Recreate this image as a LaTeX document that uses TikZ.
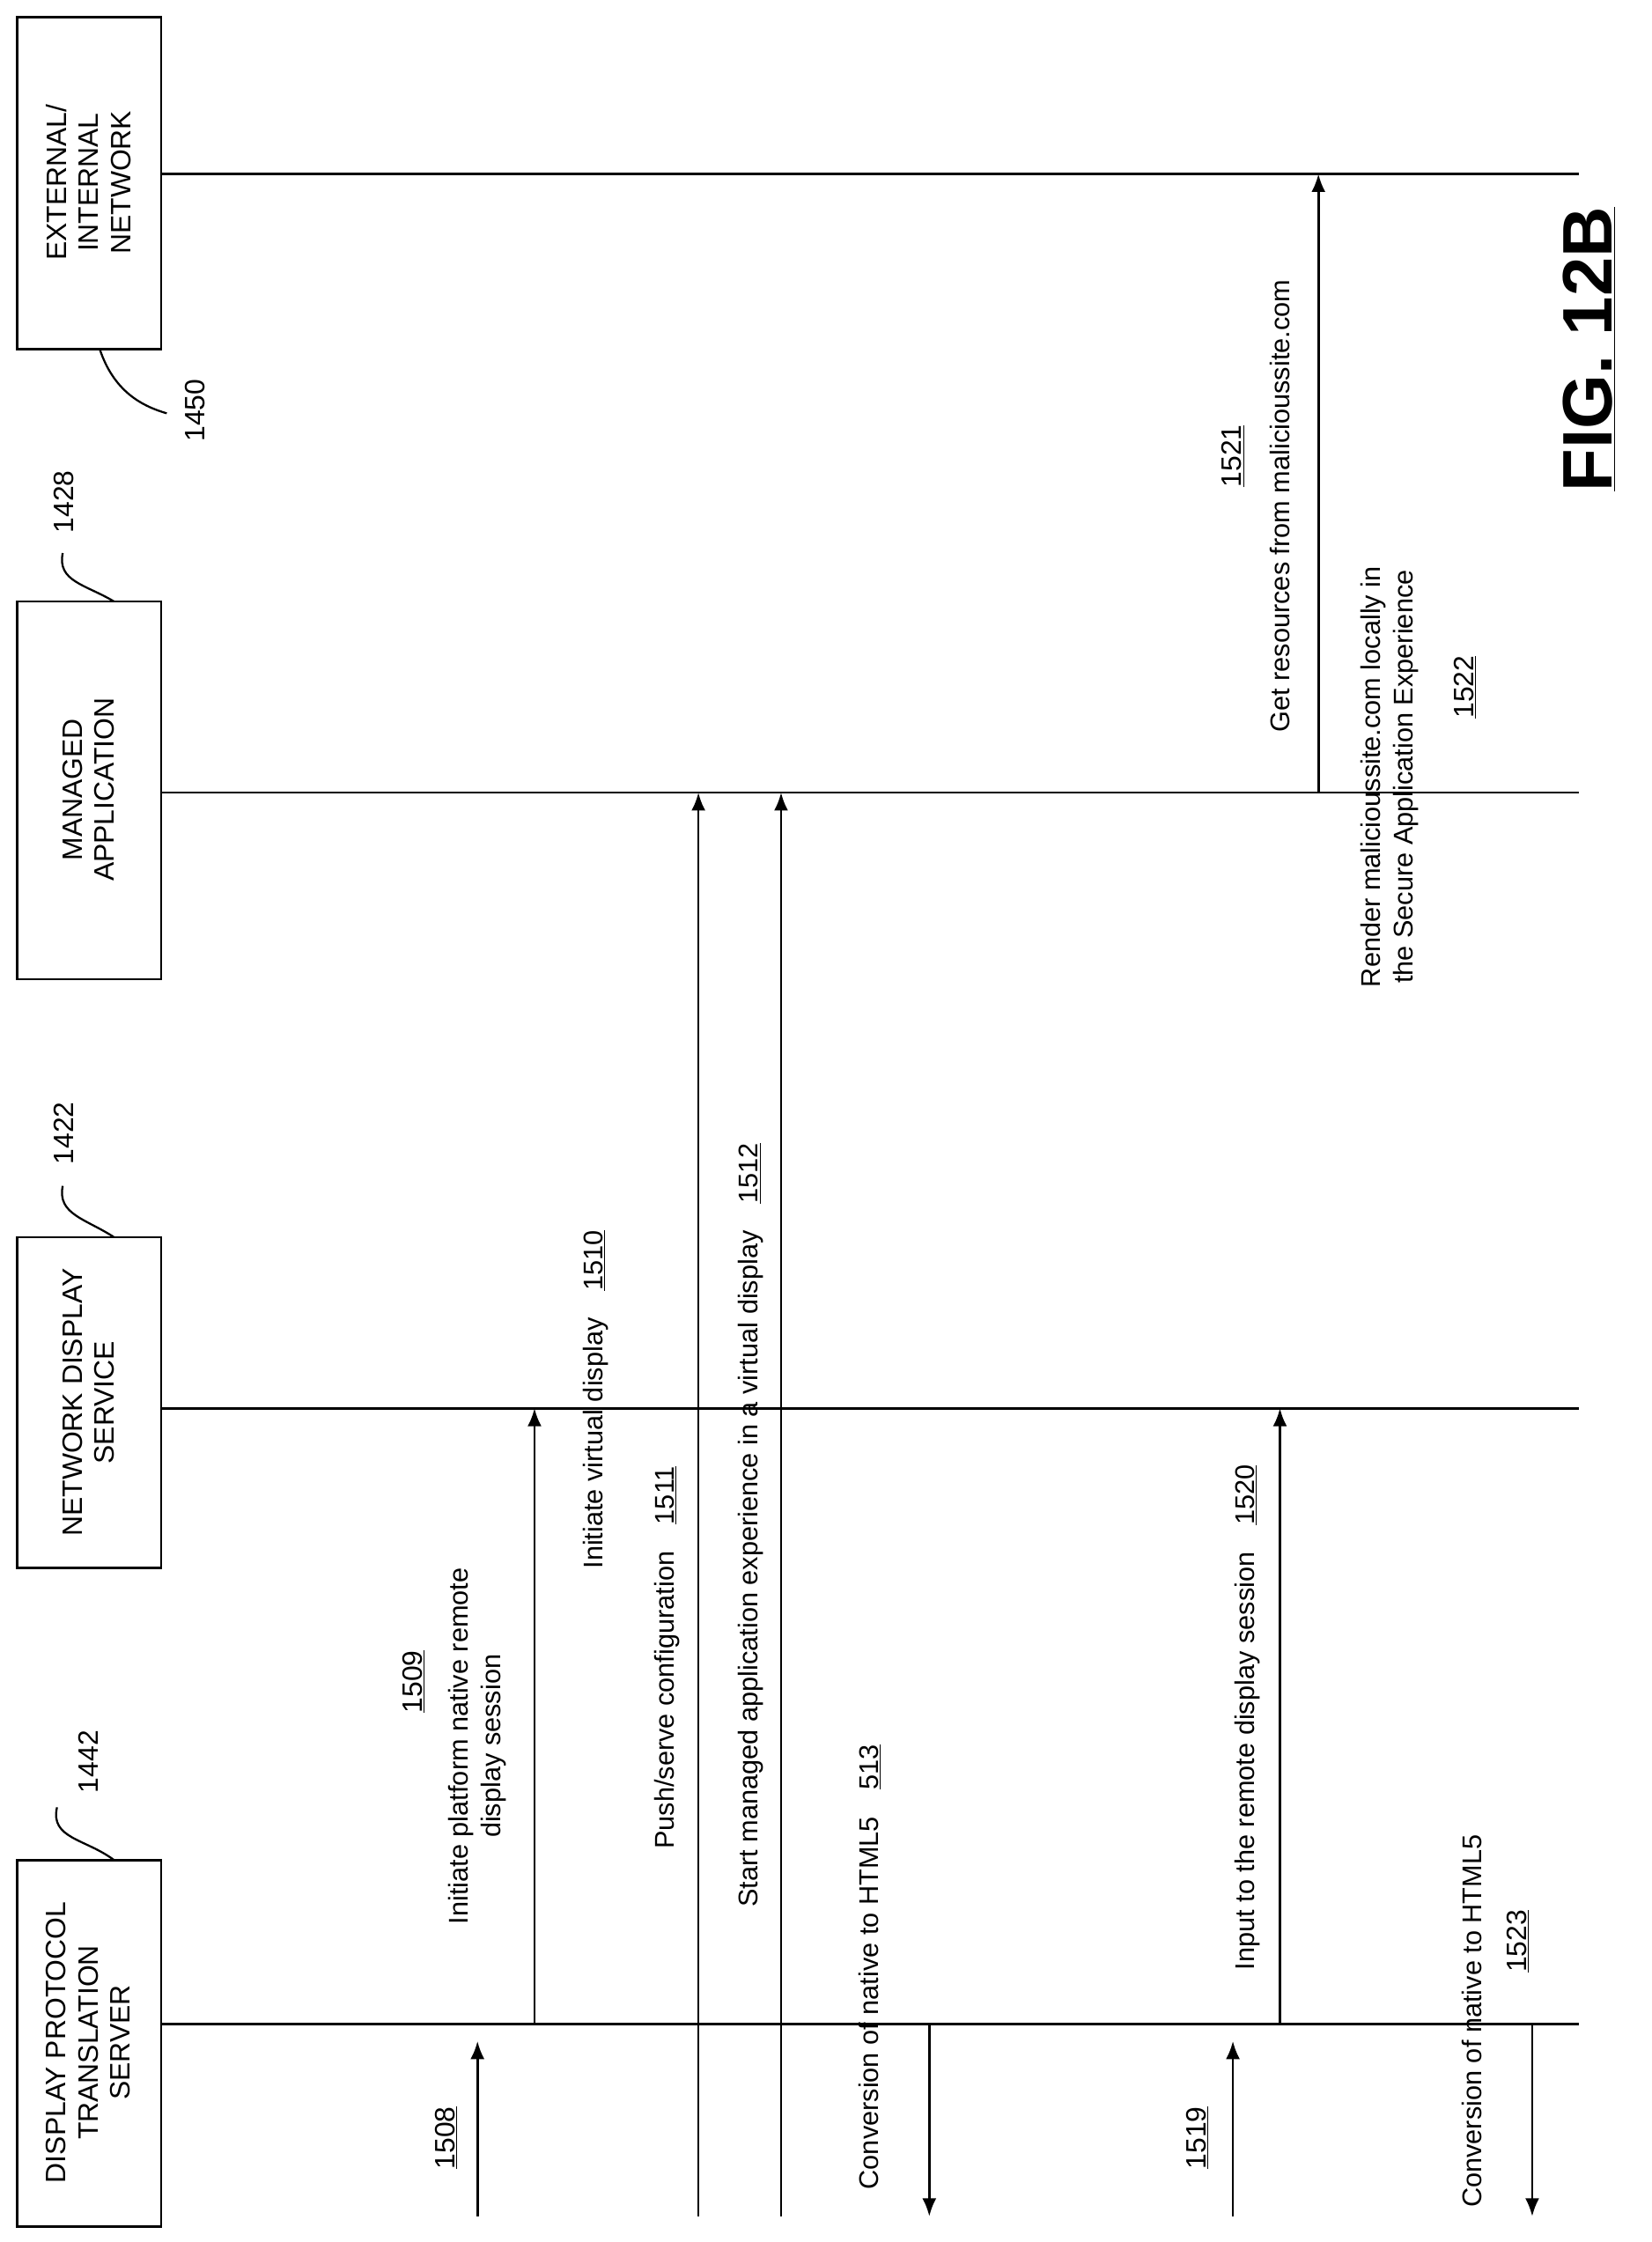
\documentclass[tikz,border=0pt]{standalone}
\usepackage{fontspec}
\setmainfont{Liberation Sans}
\usetikzlibrary{arrows.meta,positioning}

\begin{document}
\begin{tikzpicture}[
    x=0.05cm, y=-0.05cm,
    box/.style={draw, line width=2.4pt, font=\fontsize{28}{32}\selectfont, align=center},
    life/.style={line width=2.4pt},
    msg/.style={line width=2.4pt, -{Latex[length=18pt,width=14pt]}},
    lbl/.style={rotate=90, font=\fontsize{27}{32}\selectfont, align=center, inner sep=1pt},
    ref/.style={font=\fontsize{28}{32}\selectfont, inner sep=1pt},
    lead/.style={line width=2pt}
]
    \useasboundingbox (0,0) rectangle (1159,1573);

    % participant boxes
    \draw[box] (12,1305) rectangle (113,1562);
    \node[box, draw=none, rotate=90] (dpts) at (62,1433) {DISPLAY PROTOCOL\\TRANSLATION\\SERVER};
    \draw[box] (12,868) rectangle (113,1100);
    \node[box, draw=none, rotate=90] (nds) at (62,984) {NETWORK DISPLAY\\SERVICE};
    \draw[box] (12,422) rectangle (113,687);
    \node[box, draw=none, rotate=90] (mapp) at (62,554) {MANAGED\\APPLICATION};
    \draw[box] (12,12) rectangle (113,245);
    \node[box, draw=none, rotate=90] (net) at (62,128) {EXTERNAL/\\INTERNAL\\NETWORK};

    % lifelines
    \draw[life] (113,1420) -- (1108,1420);
    \draw[life] (113,988) -- (1108,988);
    \draw[life] (113,556) -- (1108,556);
    \draw[life] (113,122) -- (1108,122);

    % reference numerals of participants
    \node[ref, rotate=90] (r1442) at (62,1236) {1442};
    \draw[lead] (80,1305) .. controls (60,1290) and (35,1290) .. (40,1268);
    \node[ref, rotate=90] (r1422) at (45,795) {1422};
    \draw[lead] (80,868) .. controls (60,855) and (40,852) .. (44,832);
    \node[ref, rotate=90] (r1428) at (45,352) {1428};
    \draw[lead] (80,422) .. controls (60,410) and (40,408) .. (44,388);
    \node[ref, rotate=90] (r1450) at (137,288) {1450};
    \draw[lead] (70,245) .. controls (80,275) and (100,285) .. (117,290);

    % messages
    \draw[msg] (335,1555) -- (335,1432);
    \node[ref, rotate=90] (m1508) at (313,1500) {\underline{1508}};

    \draw[msg] (375,1420) -- (375,988);
    \node[lbl] (m1509) at (335,1225) {Initiate platform native remote\\display session};
    \node[ref, rotate=90] (n1509) at (290,1180) {\underline{1509}};

    \node[lbl] (m1510) at (418,982) {Initiate virtual display\quad\underline{1510}};

    \draw[msg] (490,1555) -- (490,556);
    \node[lbl] (m1511) at (468,1163) {Push/serve configuration\quad\underline{1511}};

    \draw[msg] (548,1555) -- (548,556);
    \node[lbl] (m1512) at (527,1070) {Start managed application experience in a virtual display\quad\underline{1512}};

    \draw[msg] (652,1420) -- (652,1555);
    \node[lbl] (m513) at (610,1380) {Conversion of native to HTML5\quad\underline{513}};

    \draw[msg] (865,1555) -- (865,1432);
    \node[ref, rotate=90] (m1519) at (840,1500) {\underline{1519}};

    \draw[msg] (898,1420) -- (898,988);
    \node[lbl] (m1520) at (875,1205) {Input to the remote display session\quad\underline{1520}};

    \draw[msg] (1075,1420) -- (1075,1555);
    \node[lbl] (m1523) at (1033,1418) {Conversion of native to HTML5};
    \node[ref, rotate=90] (n1523) at (1065,1362) {\underline{1523}};

    \draw[msg] (925,556) -- (925,122);
    \node[lbl] (m1521) at (898,355) {Get resources from malicioussite.com};
    \node[ref, rotate=90] (n1521) at (865,320) {\underline{1521}};

    \node[lbl] (m1522) at (975,545) {Render malicioussite.com locally in\\the Secure Application Experience};
    \node[ref, rotate=90] (n1522) at (1028,482) {\underline{1522}};

    % figure label
    \node[rotate=90, font=\fontsize{70}{80}\bfseries\selectfont] (fig) at (1115,245) {\underline{FIG. 12B}};
\end{tikzpicture}
\end{document}
